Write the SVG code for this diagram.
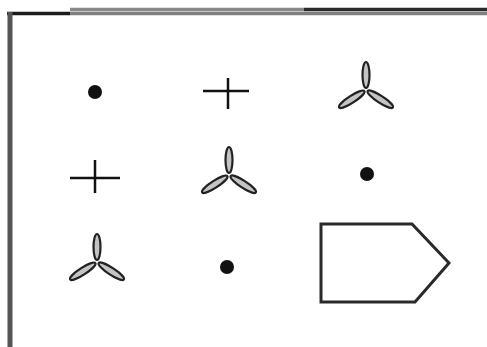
<svg xmlns="http://www.w3.org/2000/svg" width="487" height="347" viewBox="0 0 487 347">
<style>
.dot{fill:#111}
.plus{stroke:#111;stroke-width:2.5;fill:none}
.petal{fill:#c4c4c4;stroke:#222;stroke-width:2.2}
.frame{fill:none;stroke-width:3.5}
</style>
<defs>
<g id="tri">
<ellipse class="petal" cx="0" cy="-15" rx="3.5" ry="13"/>
<ellipse class="petal" cx="0" cy="-17" rx="3.5" ry="15" transform="rotate(123)"/>
<ellipse class="petal" cx="0" cy="-17" rx="3.5" ry="15" transform="rotate(237)"/>
</g>
</defs>
<rect width="487" height="347" fill="#fff"/>
<g id="frame">
<line x1="70" y1="9.5" x2="304" y2="9.5" stroke="#888" class="frame"/>
<line x1="304" y1="9.5" x2="487" y2="9.5" stroke="#2a2a2a" class="frame"/>
<line x1="7" y1="13.5" x2="70" y2="13.5" stroke="#1c1c1c" class="frame"/>
<line x1="70" y1="13.5" x2="487" y2="13.5" stroke="#808080" class="frame"/>
<line x1="10" y1="12" x2="10" y2="347" stroke="#555" stroke-width="5"/>
</g>
<g id="n1"><circle class="dot" cx="95" cy="92" r="7"/></g>
<g id="n2"><path class="plus" d="M203 91H249M228 78V109"/></g>
<g id="n3"><use href="#tri" x="366" y="90"/></g>
<g id="n4"><path class="plus" d="M70 178H120M95 160V193"/></g>
<g id="n5"><use href="#tri" x="229" y="175"/></g>
<g id="n6"><circle class="dot" cx="367" cy="174" r="7"/></g>
<g id="n7"><use href="#tri" x="97" y="262"/></g>
<g id="n8"><circle class="dot" cx="227" cy="267" r="7"/></g>
<g id="n9"><path d="M321 224L412 224L449 263L415 302L321 302Z" fill="none" stroke="#2a2a2a" stroke-width="3"/></g>
<g id="connectors"></g>
</svg>
